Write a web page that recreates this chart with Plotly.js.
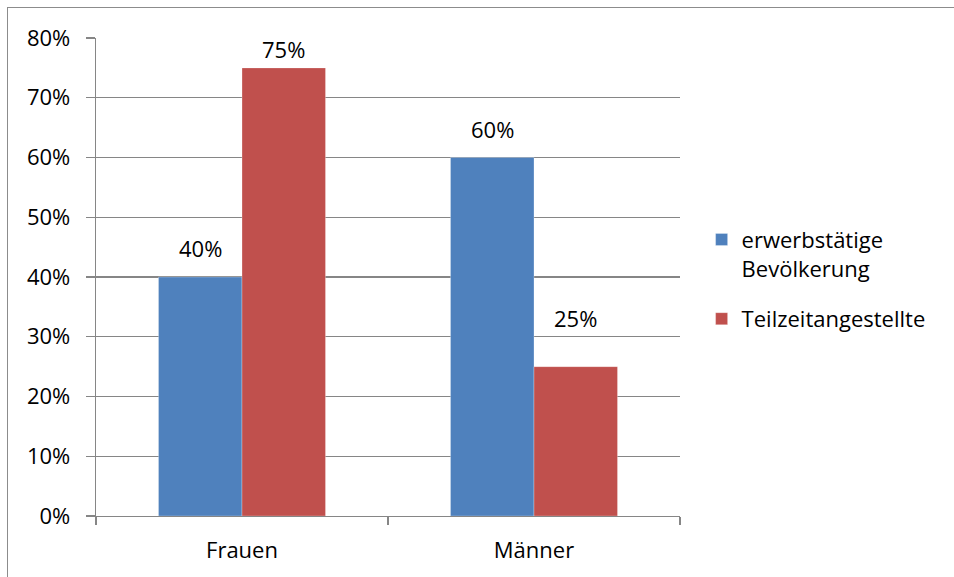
<!DOCTYPE html>
<html>
<head>
<meta charset="utf-8">
<script src="https://cdn.plot.ly/plotly-3.0.1.min.js"></script>
<style>
  html, body { margin: 0; padding: 0; background: #fff; }
  #wrap { position: relative; width: 954px; height: 577px; overflow: hidden; }
  #chart { width: 954px; height: 577px; }
  #frame {
    position: absolute; left: 7px; top: 7px; width: 960px; height: 600px;
    border: 1px solid #8c8c8c; box-sizing: border-box; pointer-events: none;
  }
</style>
</head>
<body>
<div id="wrap">
  <div id="chart"></div>
  <div id="frame"></div>
</div>
<script>
// Anteile nach Geschlecht
const categories = ['Frauen', 'Männer'];
const seriesNames = ['erwerbstätige<br>Bevölkerung', 'Teilzeitangestellte'];
const erwerbstaetige = [0.40, 0.60];
const teilzeit = [0.75, 0.25];
const yTickValues = [0, 0.1, 0.2, 0.3, 0.4, 0.5, 0.6, 0.7, 0.8];
const yTickLabels = ['0%', '10%', '20%', '30%', '40%', '50%', '60%', '70%', '80%'];

const FONT = 'Open Sans, sans-serif';
const FS = 22;
const colors = ['#4F81BD', '#C0504D'];
const series = [erwerbstaetige, teilzeit];
// Abstand der Wertbeschriftung über dem Balken (px), je Reihe und Kategorie
const labelLift = [[12.5, 12], [2, 31.5]];

const margin = {l: 96, r: 274, t: 38, b: 61};
const plotW = 954 - margin.l - margin.r;
const bargap = 0.428;
const barPx = plotW / categories.length * (1 - bargap) / series.length;

const traces = series.map((vals, i) => ({
  type: 'bar',
  name: seriesNames[i],
  x: categories,
  y: vals,
  legendgroup: 'g' + i,
  marker: {color: colors[i], line: {color: 'rgba(255,255,255,0.35)', width: 0.8}},
  hoverinfo: 'skip'
}));

// Wertbeschriftungen über den Balken
const annotations = [];
series.forEach((vals, i) => {
  vals.forEach((v, j) => {
    annotations.push({
      x: categories[j], y: v, xref: 'x', yref: 'y',
      xshift: (i - (series.length - 1) / 2) * barPx,
      yshift: labelLift[i][j],
      yanchor: 'bottom',
      text: Math.round(v * 100) + '%',
      showarrow: false,
      font: {family: FONT, size: FS, color: '#000'}
    });
  });
});

const layout = {
  width: 954, height: 577,
  margin: margin,
  paper_bgcolor: '#fff', plot_bgcolor: '#fff',
  barmode: 'group',
  bargap: bargap,
  bargroupgap: 0,
  font: {family: FONT, size: FS, color: '#000'},
  showlegend: true,
  legend: {
    x: 1.037, y: 0.622, xanchor: 'left', yanchor: 'top',
    traceorder: 'grouped', tracegroupgap: 19, valign: 'top',
    font: {family: FONT, size: FS, color: '#000'},
    bgcolor: 'rgba(0,0,0,0)'
  },
  xaxis: {
    type: 'category',
    showgrid: false, zeroline: false,
    showline: true, linecolor: '#868686', linewidth: 1.3,
    ticks: 'outside', ticklen: 8, tickcolor: '#868686', tickwidth: 1.3,
    tickson: 'boundaries',
    ticklabelstandoff: 14,
    tickfont: {family: FONT, size: FS, color: '#000'}
  },
  yaxis: {
    range: [0, 0.8],
    tickvals: yTickValues, ticktext: yTickLabels,
    showgrid: true, gridcolor: '#868686', gridwidth: 1.3,
    zeroline: false,
    showline: true, linecolor: '#868686', linewidth: 1.3,
    ticks: 'outside', ticklen: 9, tickcolor: '#868686', tickwidth: 1.3,
    ticklabelstandoff: 11,
    tickfont: {family: FONT, size: FS, color: '#000'}
  },
  annotations: annotations
};

Plotly.newPlot('chart', traces, layout, {displayModeBar: false, staticPlot: true});
</script>
</body>
</html>
